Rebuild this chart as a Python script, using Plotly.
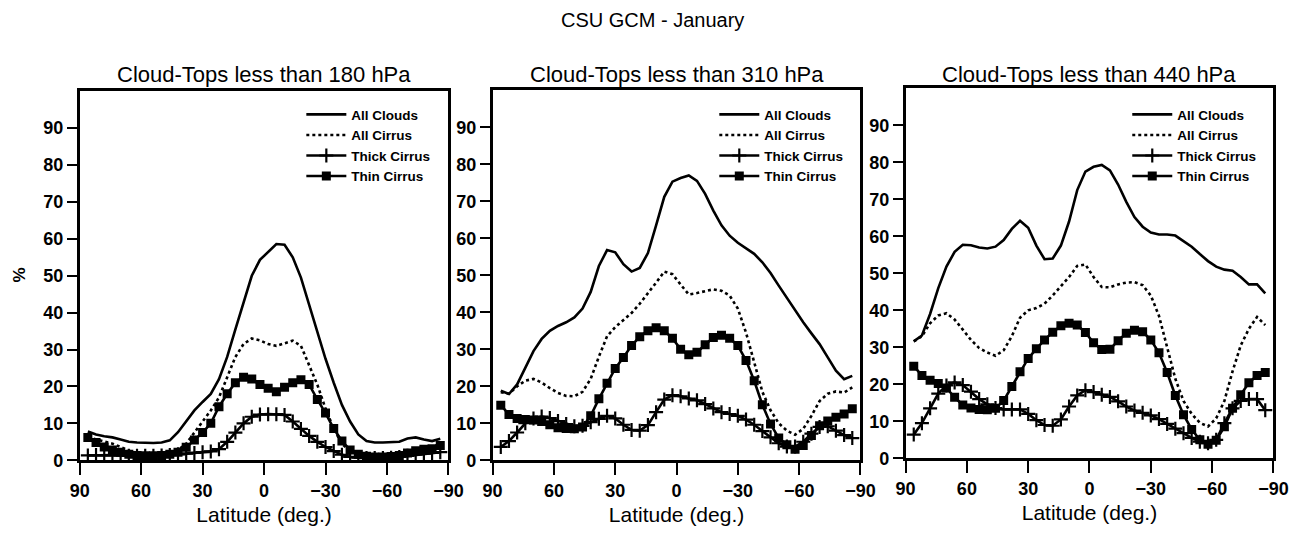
import plotly.graph_objects as go

# Latitude grid of the model (deg.), north to south
lat = [86, 82, 78, 74, 70, 66, 62, 58, 54, 50, 46, 42, 38, 34, 30, 26, 22, 18, 14, 10, 6, 2,
       -2, -6, -10, -14, -18, -22, -26, -30, -34, -38, -42, -46, -50, -54, -58, -62, -66, -70,
       -74, -78, -82, -86]

# Cloud-tops less than 180 hPa (%)
clouds_180 = [7.8, 7.0, 6.5, 6.2, 5.6, 5.0, 4.8, 4.7, 4.7, 4.8, 5.4, 7.6, 10.5, 13.5, 15.8, 18.0,
              22.0, 28.0, 35.5, 43.0, 50.0, 54.3, 56.5, 58.6, 58.4, 55.0, 49.5, 42.0, 34.5, 27.5,
              21.0, 15.0, 10.5, 7.0, 5.2, 4.8, 4.8, 4.8, 5.0, 5.9, 6.2, 5.6, 5.2, 5.8]
cirrus_180 = [6.2, 5.6, 5.0, 4.5, 3.6, 2.6, 2.0, 1.8, 1.7, 1.8, 2.0, 2.8, 4.5, 7.5, 10.5, 13.5,
              17.0, 22.5, 28.0, 31.5, 33.0, 32.5, 31.5, 31.0, 31.8, 32.4, 31.0, 26.0, 20.5, 14.0,
              8.5, 4.5, 2.4, 1.7, 1.5, 1.4, 1.4, 1.5, 1.8, 2.4, 2.8, 3.4, 3.8, 4.3]
thick_180 = [1.3, 1.4, 1.4, 1.4, 1.3, 1.2, 1.2, 1.2, 1.2, 1.3, 1.4, 1.6, 1.8, 2.0, 2.2, 2.4,
             3.0, 5.0, 7.5, 10.0, 11.8, 12.4, 12.5, 12.5, 12.3, 10.5, 8.5, 6.6, 5.0, 3.6,
             2.5, 1.5, 0.9, 0.7, 0.6, 0.6, 0.6, 0.7, 0.9, 1.2, 1.5, 1.8, 2.0, 2.2]
thin_180 = [6.2, 4.8, 3.6, 2.8, 2.2, 1.6, 1.3, 1.2, 1.2, 1.3, 1.6, 2.2, 3.5, 5.5, 7.5, 10.0,
            14.5, 18.0, 21.0, 22.5, 22.0, 20.5, 19.5, 18.6, 19.8, 21.0, 21.8, 20.5, 16.5, 12.8,
            8.6, 5.2, 2.8, 1.6, 1.1, 0.9, 0.9, 1.0, 1.3, 2.0, 2.6, 3.0, 3.1, 4.0]

# Cloud-tops less than 310 hPa (%)
clouds_310 = [18.8, 17.9, 20.5, 25.0, 29.5, 32.8, 35.0, 36.3, 37.3, 38.6, 41.0, 45.5, 52.5, 56.8,
              56.2, 53.0, 51.0, 52.0, 56.0, 63.5, 71.2, 75.3, 76.3, 77.0, 75.5, 72.0, 67.5, 63.5,
              60.7, 58.8, 57.2, 55.8, 53.5, 50.6, 47.2, 43.8, 40.5, 37.3, 34.3, 31.4, 27.8, 24.2,
              21.9, 22.8]
cirrus_310 = [18.4, 18.0, 20.0, 21.5, 22.0, 21.0, 19.5, 18.2, 17.4, 17.3, 18.5, 22.0, 28.0, 33.5,
              36.0, 38.0, 39.8, 42.3, 45.0, 48.0, 51.0, 50.3, 47.5, 44.8, 45.2, 45.8, 46.2, 45.8,
              44.5, 41.0, 34.5, 26.5, 18.5, 13.5, 10.0, 8.0, 6.9, 8.5, 12.0, 16.0, 18.0, 18.6,
              18.3, 19.7]
thick_310 = [3.6, 5.2, 7.5, 10.0, 11.3, 11.8, 11.4, 10.6, 9.8, 9.2, 9.3, 10.3, 11.2, 12.0,
             11.3, 9.6, 8.2, 8.0, 9.5, 13.0, 16.4, 17.6, 17.3, 16.7, 16.2, 15.2, 14.0, 13.0,
             12.5, 12.0, 11.0, 9.6, 7.9, 6.2, 4.6, 3.7, 3.7, 5.0, 7.2, 9.0, 9.2, 8.0, 6.8, 6.0]
thin_310 = [14.9, 12.4, 11.3, 11.0, 10.9, 10.5, 9.6, 8.8, 8.6, 8.5, 9.0, 12.0, 16.6, 20.8,
            24.8, 27.8, 31.0, 33.4, 35.0, 35.8, 35.0, 33.0, 30.0, 28.5, 29.2, 31.2, 33.2, 33.8,
            33.0, 31.0, 27.0, 21.5, 15.0, 9.8, 6.0, 4.2, 3.0, 4.0, 6.7, 9.3, 10.6, 11.6, 12.5,
            13.9]

# Cloud-tops less than 440 hPa (%)
clouds_440 = [31.6, 33.2, 39.0, 46.0, 51.8, 55.8, 57.7, 57.6, 57.0, 56.7, 57.2, 59.0, 62.0, 64.2,
              62.3, 57.5, 53.8, 54.0, 57.5, 64.0, 72.5, 77.5, 78.8, 79.3, 77.8, 74.0, 69.3, 65.2,
              62.6, 61.0, 60.5, 60.5, 60.2, 58.8, 57.2, 55.2, 53.3, 51.8, 51.0, 50.7, 49.0, 47.0,
              47.0, 44.6]
cirrus_440 = [31.6, 33.0, 36.5, 38.6, 39.2, 37.5, 34.8, 32.0, 29.8, 28.6, 27.7, 29.2, 33.0, 38.0,
              40.0, 40.6, 41.8, 44.0, 46.5, 49.0, 52.0, 52.4, 49.0, 46.3, 46.2, 47.0, 47.5, 47.6,
              46.8, 44.0, 38.5, 30.0, 21.5, 15.5, 12.0, 9.6, 8.6, 10.8, 15.5, 23.5, 30.5, 35.0,
              38.2, 36.0]
thick_440 = [6.4, 9.5, 13.5, 17.5, 19.7, 20.5, 19.8, 18.0, 16.0, 14.6, 13.6, 13.2, 13.2, 13.2,
             12.0, 10.3, 9.0, 8.8, 10.5, 14.0, 17.0, 18.4, 17.9, 17.2, 16.6, 15.4, 14.0, 12.9,
             12.3, 11.6, 10.6, 9.3, 8.0, 6.8, 5.5, 4.5, 4.1, 5.0, 9.5, 13.5, 15.5, 16.0, 16.0,
             13.0]
thin_440 = [24.9, 22.4, 21.1, 20.2, 19.0, 16.5, 14.4, 13.6, 13.2, 13.1, 13.5, 15.6, 19.4, 23.4,
            27.0, 29.6, 32.0, 34.1, 35.8, 36.5, 36.0, 34.0, 31.2, 29.4, 29.5, 31.8, 33.8, 34.6,
            34.2, 32.0, 28.5, 23.2, 17.0, 11.8, 7.8, 5.0, 3.8, 4.9, 8.5, 13.5, 17.2, 20.4, 22.4,
            23.2]

panel_titles = ["Cloud-Tops less than 180 hPa", "Cloud-Tops less than 310 hPa",
                "Cloud-Tops less than 440 hPa"]
series_names = ["All Clouds", "All Cirrus", "Thick Cirrus", "Thin Cirrus"]
x_ticks = [90, 60, 30, 0, -30, -60, -90]
y_ticks = [0, 10, 20, 30, 40, 50, 60, 70, 80, 90]

panels = [
    (clouds_180, cirrus_180, thick_180, thin_180),
    (clouds_310, cirrus_310, thick_310, thin_310),
    (clouds_440, cirrus_440, thick_440, thin_440),
]

W, H = 1310, 537
FONT = "Liberation Sans, Arial, Helvetica, sans-serif"

# pixel boxes of the three plotting areas: (left, right, top, bottom)
boxes = [(71, 447, 93, 469), (492, 867, 92, 469), (913, 1288, 90, 467)]

fig = go.Figure()
layout = dict(
    width=W, height=H,
    margin=dict(l=0, r=0, t=0, b=0),
    paper_bgcolor="white", plot_bgcolor="white",
    font=dict(family=FONT, color="black"),
    annotations=[],
)

for i, (series, box) in enumerate(zip(panels, boxes)):
    n = "" if i == 0 else str(i + 1)
    xa, ya = "x" + n, "y" + n
    leg = "legend" + n
    clouds, cirrus, thick, thin = series

    styles = [
        dict(line=dict(color="black", width=2.6), mode="lines"),
        dict(line=dict(color="black", width=2.6, dash="dot"), mode="lines"),
        dict(line=dict(color="black", width=2.6), mode="lines+markers",
             marker=dict(symbol="cross-thin", size=10, color="black",
                         line=dict(width=2.2, color="black"))),
        dict(line=dict(color="black", width=2.6), mode="lines+markers",
             marker=dict(symbol="square", size=9, color="black")),
    ]
    for name, vals, st in zip(series_names, (clouds, cirrus, thick, thin), styles):
        fig.add_trace(go.Scatter(x=lat, y=vals, name=name, xaxis=xa, yaxis=ya,
                                 legend=leg, **st))

    left, right, top, bottom = box
    axis_common = dict(showline=True, linewidth=2.5, linecolor="black", mirror=True,
                       showgrid=False, zeroline=False, ticks="outside", tickwidth=2.2,
                       tickcolor="black",
                       tickfont=dict(size=18, family=FONT, weight="bold"))
    layout["xaxis" + n] = dict(
        axis_common, domain=[left / W, right / W], anchor=ya,
        range=[90, -90], tickvals=x_ticks, ticklen=12,
        title=dict(text="Latitude (deg.)", font=dict(size=21, family=FONT), standoff=8),
    )
    layout["yaxis" + n] = dict(
        axis_common, domain=[1 - bottom / H, 1 - top / H], anchor=xa,
        range=[0, 100], tickvals=y_ticks, ticklen=10,
    )
    layout[leg] = dict(
        x=(left + 226) / W, y=1 - 101 / H, xanchor="left", yanchor="top",
        bgcolor="rgba(0,0,0,0)", borderwidth=0, itemwidth=40,
        font=dict(size=13.5, family=FONT, weight="bold"), tracegroupgap=0,
    )
    layout["annotations"].append(dict(
        text=panel_titles[i], x=(left + right) / 2 / W, y=1 - 76 / H,
        xref="paper", yref="paper", xanchor="center", yanchor="middle",
        showarrow=False, font=dict(size=22, family=FONT),
    ))

layout["annotations"].append(dict(
    text="CSU GCM - January", x=655 / W, y=1 - 20 / H, xref="paper", yref="paper",
    xanchor="center", yanchor="middle", showarrow=False, font=dict(size=20, family=FONT),
))
layout["annotations"].append(dict(
    text="%", x=10 / W, y=1 - 280 / H, xref="paper", yref="paper", textangle=-90,
    xanchor="center", yanchor="middle", showarrow=False,
    font=dict(size=17, family=FONT, weight="bold"),
))

fig.update_layout(**layout)
fig.write_html("out.html")
